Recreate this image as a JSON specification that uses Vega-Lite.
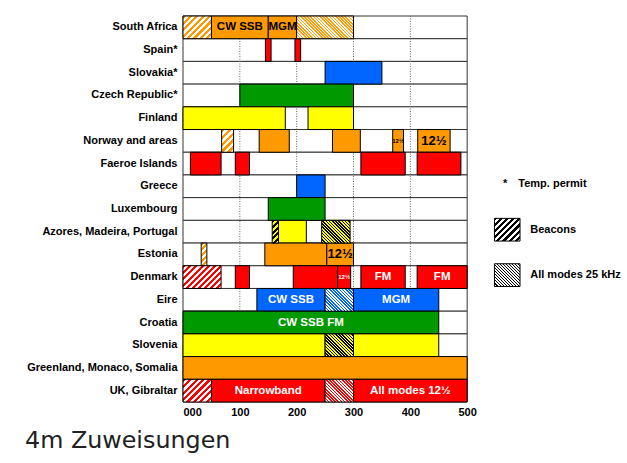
{
"$schema": "https://vega.github.io/schema/vega-lite/v6.json",
"width": 341, "height": 386,
"autosize": {"type": "none"},
"padding": {"left": 183, "top": 16, "right": 103, "bottom": 61},
"background": "white",
"title": {"text": "4m Zuweisungen", "orient": "bottom", "anchor": "start", "frame": "group", "dx": -158, "offset": 12, "font": "DejaVu Sans", "fontSize": 23.8, "fontWeight": "normal", "color": "#202122"},
"config": {"view": {"stroke": null}, "axis": {"labelFont": "Liberation Sans", "labelFontWeight": "bold", "labelFontSize": 11, "labelColor": "#000", "domain": false, "ticks": false, "grid": false}},
"datasets": {
"rows": [{"country":"South Africa"},{"country":"Spain*"},{"country":"Slovakia*"},{"country":"Czech Republic*"},{"country":"Finland"},{"country":"Norway and areas"},{"country":"Faeroe Islands"},{"country":"Greece"},{"country":"Luxembourg"},{"country":"Azores, Madeira, Portugal"},{"country":"Estonia"},{"country":"Denmark"},{"country":"Eire"},{"country":"Croatia"},{"country":"Slovenia"},{"country":"Greenland, Monaco, Somalia"},{"country":"UK, Gibraltar"}],
"solid": [
{"country":"South Africa","start":50,"end":150,"hue":"orange"},
{"country":"South Africa","start":150,"end":200,"hue":"orange"},
{"country":"Spain*","start":145,"end":155,"hue":"red"},
{"country":"Spain*","start":197,"end":207,"hue":"red"},
{"country":"Slovakia*","start":250,"end":350,"hue":"blue"},
{"country":"Czech Republic*","start":100,"end":300,"hue":"green"},
{"country":"Finland","start":0,"end":180,"hue":"yellow"},
{"country":"Finland","start":220,"end":300,"hue":"yellow"},
{"country":"Norway and areas","start":134,"end":187,"hue":"orange"},
{"country":"Norway and areas","start":263,"end":312,"hue":"orange"},
{"country":"Norway and areas","start":369,"end":388,"hue":"orange"},
{"country":"Norway and areas","start":413,"end":470,"hue":"orange"},
{"country":"Faeroe Islands","start":13,"end":67,"hue":"red"},
{"country":"Faeroe Islands","start":92,"end":117,"hue":"red"},
{"country":"Faeroe Islands","start":313,"end":391,"hue":"red"},
{"country":"Faeroe Islands","start":412,"end":489,"hue":"red"},
{"country":"Greece","start":200,"end":250,"hue":"blue"},
{"country":"Luxembourg","start":150,"end":250,"hue":"green"},
{"country":"Azores, Madeira, Portugal","start":168,"end":217,"hue":"yellow"},
{"country":"Estonia","start":144,"end":253,"hue":"orange"},
{"country":"Estonia","start":253,"end":300,"hue":"orange"},
{"country":"Denmark","start":92,"end":117,"hue":"red"},
{"country":"Denmark","start":194,"end":272,"hue":"red"},
{"country":"Denmark","start":272,"end":295,"hue":"red"},
{"country":"Denmark","start":313,"end":391,"hue":"red"},
{"country":"Denmark","start":412,"end":500,"hue":"red"},
{"country":"Eire","start":130,"end":250,"hue":"blue"},
{"country":"Eire","start":300,"end":450,"hue":"blue"},
{"country":"Croatia","start":0,"end":450,"hue":"green"},
{"country":"Slovenia","start":0,"end":250,"hue":"yellow"},
{"country":"Slovenia","start":300,"end":450,"hue":"yellow"},
{"country":"Greenland, Monaco, Somalia","start":0,"end":500,"hue":"orange"},
{"country":"UK, Gibraltar","start":50,"end":250,"hue":"red"},
{"country":"UK, Gibraltar","start":300,"end":500,"hue":"red"}
],
"labelsDark": [
{"country":"South Africa","start":50,"end":150,"label":"CW SSB"},
{"country":"South Africa","start":150,"end":200,"label":"MGM"}
],
"labelsDarkBig": [
{"country":"Norway and areas","start":413,"end":470,"label":"12½"},
{"country":"Estonia","start":253,"end":300,"label":"12½"}
],
"labelsDarkTiny": [
{"country":"Norway and areas","start":369,"end":388,"label":"12½"}
],
"labelsLight": [
{"country":"Denmark","start":313,"end":391,"label":"FM"},
{"country":"Denmark","start":412,"end":500,"label":"FM"},
{"country":"Eire","start":130,"end":250,"label":"CW SSB"},
{"country":"Eire","start":300,"end":450,"label":"MGM"},
{"country":"Croatia","start":0,"end":450,"label":"CW SSB FM"},
{"country":"UK, Gibraltar","start":50,"end":250,"label":"Narrowband"},
{"country":"UK, Gibraltar","start":300,"end":500,"label":"All modes 12½"}
],
"labelsLightTiny": [
{"country":"Denmark","start":272,"end":295,"label":"12½"}
],
"legendText": [
{"country":"Greece","pos":590,"label":"Temp. permit"},
{"country":"Azores, Madeira, Portugal","pos":611,"label":"Beacons"},
{"country":"Denmark","pos":611,"label":"All modes 25 kHz"}
]
},
"layer": [
{"data": {"name": "rows"},
 "mark": {"type": "rect", "fill": "white", "stroke": "#333", "strokeWidth": 1},
 "encoding": {
  "y": {"field": "country", "type": "nominal", "title": null, "scale": {"domain": ["South Africa","Spain*","Slovakia*","Czech Republic*","Finland","Norway and areas","Faeroe Islands","Greece","Luxembourg","Azores, Madeira, Portugal","Estonia","Denmark","Eire","Croatia","Slovenia","Greenland, Monaco, Somalia","UK, Gibraltar"], "paddingInner": 0, "paddingOuter": 0}, "axis": {"labelPadding": 6}},
  "x": {"datum": 0, "type": "quantitative", "title": null, "scale": {"domain": [0, 600], "nice": false, "zero": false}, "axis": {"values": [0,100,200,300,400,500], "labelExpr": "datum.value === 0 ? '000' : datum.label", "labelPadding": 4}},
  "x2": {"datum": 500}
 }},
{"data": {"values": [{"v":100},{"v":200},{"v":300},{"v":400}]},
 "mark": {"type": "rule", "color": "#666", "strokeDash": [1, 1.5], "strokeWidth": 1},
 "encoding": {"x": {"field": "v", "type": "quantitative", "title": null}}},
{"data": {"name": "solid"},
 "mark": {"type": "rect", "stroke": "#000", "strokeWidth": 1},
 "encoding": {
  "y": {"field": "country", "type": "nominal", "title": null},
  "x": {"field": "start", "type": "quantitative", "title": null},
  "x2": {"field": "end"},
  "fill": {"field": "hue", "type": "nominal", "legend": null, "scale": {"domain": ["orange","red","blue","green","yellow"], "range": ["#FF9900","#FF0000","#0066FF","#009900","#FFFF00"]}}
 }},
{"data": {"values": [{"country":"South Africa","start":0,"end":50}]},
 "mark": {"type": "rect", "stroke": "#000", "strokeWidth": 1, "fill": {"gradient": "linear", "x1": 0, "y1": 0, "x2": 1.098, "y2": 0.878, "stops": [{"offset":0,"color":"#f90"},{"offset":0.0625,"color":"#f90"},{"offset":0.0625,"color":"#fff"},{"offset":0.125,"color":"#fff"},{"offset":0.125,"color":"#f90"},{"offset":0.1875,"color":"#f90"},{"offset":0.1875,"color":"#fff"},{"offset":0.25,"color":"#fff"},{"offset":0.25,"color":"#f90"},{"offset":0.3125,"color":"#f90"},{"offset":0.3125,"color":"#fff"},{"offset":0.375,"color":"#fff"},{"offset":0.375,"color":"#f90"},{"offset":0.4375,"color":"#f90"},{"offset":0.4375,"color":"#fff"},{"offset":0.5,"color":"#fff"},{"offset":0.5,"color":"#f90"},{"offset":0.5625,"color":"#f90"},{"offset":0.5625,"color":"#fff"},{"offset":0.625,"color":"#fff"},{"offset":0.625,"color":"#f90"},{"offset":0.6875,"color":"#f90"},{"offset":0.6875,"color":"#fff"},{"offset":0.75,"color":"#fff"},{"offset":0.75,"color":"#f90"},{"offset":0.8125,"color":"#f90"},{"offset":0.8125,"color":"#fff"},{"offset":0.875,"color":"#fff"},{"offset":0.875,"color":"#f90"},{"offset":0.9375,"color":"#f90"},{"offset":0.9375,"color":"#fff"},{"offset":1,"color":"#fff"}]}},
 "encoding": {"y": {"field": "country", "type": "nominal", "title": null}, "x": {"field": "start", "type": "quantitative", "title": null}, "x2": {"field": "end"}}},
{"data": {"values": [{"country":"Norway and areas","start":68,"end":89}]},
 "mark": {"type": "rect", "stroke": "#000", "strokeWidth": 1, "fill": {"gradient": "linear", "x1": 0, "y1": 0, "x2": 0.627, "y2": 1.196, "stops": [{"offset":0,"color":"#f90"},{"offset":0.1,"color":"#f90"},{"offset":0.1,"color":"#fff"},{"offset":0.2,"color":"#fff"},{"offset":0.2,"color":"#f90"},{"offset":0.3,"color":"#f90"},{"offset":0.3,"color":"#fff"},{"offset":0.4,"color":"#fff"},{"offset":0.4,"color":"#f90"},{"offset":0.5,"color":"#f90"},{"offset":0.5,"color":"#fff"},{"offset":0.6,"color":"#fff"},{"offset":0.6,"color":"#f90"},{"offset":0.7,"color":"#f90"},{"offset":0.7,"color":"#fff"},{"offset":0.8,"color":"#fff"},{"offset":0.8,"color":"#f90"},{"offset":0.9,"color":"#f90"},{"offset":0.9,"color":"#fff"},{"offset":1,"color":"#fff"}]}},
 "encoding": {"y": {"field": "country", "type": "nominal", "title": null}, "x": {"field": "start", "type": "quantitative", "title": null}, "x2": {"field": "end"}}},
{"data": {"values": [{"country":"Estonia","start":32,"end":42}]},
 "mark": {"type": "rect", "stroke": "#000", "strokeWidth": 1, "fill": {"gradient": "linear", "x1": 0, "y1": 0, "x2": 0.294, "y2": 1.177, "stops": [{"offset":0,"color":"#f90"},{"offset":0.1,"color":"#f90"},{"offset":0.1,"color":"#fff"},{"offset":0.2,"color":"#fff"},{"offset":0.2,"color":"#f90"},{"offset":0.3,"color":"#f90"},{"offset":0.3,"color":"#fff"},{"offset":0.4,"color":"#fff"},{"offset":0.4,"color":"#f90"},{"offset":0.5,"color":"#f90"},{"offset":0.5,"color":"#fff"},{"offset":0.6,"color":"#fff"},{"offset":0.6,"color":"#f90"},{"offset":0.7,"color":"#f90"},{"offset":0.7,"color":"#fff"},{"offset":0.8,"color":"#fff"},{"offset":0.8,"color":"#f90"},{"offset":0.9,"color":"#f90"},{"offset":0.9,"color":"#fff"},{"offset":1,"color":"#fff"}]}},
 "encoding": {"y": {"field": "country", "type": "nominal", "title": null}, "x": {"field": "start", "type": "quantitative", "title": null}, "x2": {"field": "end"}}},
{"data": {"values": [{"country":"Denmark","start":0,"end":67}]},
 "mark": {"type": "rect", "stroke": "#000", "strokeWidth": 1, "fill": {"gradient": "linear", "x1": 0, "y1": 0, "x2": 1.178, "y2": 0.702, "stops": [{"offset":0,"color":"#f00"},{"offset":0.05,"color":"#f00"},{"offset":0.05,"color":"#fff"},{"offset":0.1,"color":"#fff"},{"offset":0.1,"color":"#f00"},{"offset":0.15,"color":"#f00"},{"offset":0.15,"color":"#fff"},{"offset":0.2,"color":"#fff"},{"offset":0.2,"color":"#f00"},{"offset":0.25,"color":"#f00"},{"offset":0.25,"color":"#fff"},{"offset":0.3,"color":"#fff"},{"offset":0.3,"color":"#f00"},{"offset":0.35,"color":"#f00"},{"offset":0.35,"color":"#fff"},{"offset":0.4,"color":"#fff"},{"offset":0.4,"color":"#f00"},{"offset":0.45,"color":"#f00"},{"offset":0.45,"color":"#fff"},{"offset":0.5,"color":"#fff"},{"offset":0.5,"color":"#f00"},{"offset":0.55,"color":"#f00"},{"offset":0.55,"color":"#fff"},{"offset":0.6,"color":"#fff"},{"offset":0.6,"color":"#f00"},{"offset":0.65,"color":"#f00"},{"offset":0.65,"color":"#fff"},{"offset":0.7,"color":"#fff"},{"offset":0.7,"color":"#f00"},{"offset":0.75,"color":"#f00"},{"offset":0.75,"color":"#fff"},{"offset":0.8,"color":"#fff"},{"offset":0.8,"color":"#f00"},{"offset":0.85,"color":"#f00"},{"offset":0.85,"color":"#fff"},{"offset":0.9,"color":"#fff"},{"offset":0.9,"color":"#f00"},{"offset":0.95,"color":"#f00"},{"offset":0.95,"color":"#fff"},{"offset":1,"color":"#fff"}]}},
 "encoding": {"y": {"field": "country", "type": "nominal", "title": null}, "x": {"field": "start", "type": "quantitative", "title": null}, "x2": {"field": "end"}}},
{"data": {"values": [{"country":"UK, Gibraltar","start":0,"end":50}]},
 "mark": {"type": "rect", "stroke": "#000", "strokeWidth": 1, "fill": {"gradient": "linear", "x1": 0, "y1": 0, "x2": 1.098, "y2": 0.878, "stops": [{"offset":0,"color":"#f00"},{"offset":0.0625,"color":"#f00"},{"offset":0.0625,"color":"#fff"},{"offset":0.125,"color":"#fff"},{"offset":0.125,"color":"#f00"},{"offset":0.1875,"color":"#f00"},{"offset":0.1875,"color":"#fff"},{"offset":0.25,"color":"#fff"},{"offset":0.25,"color":"#f00"},{"offset":0.3125,"color":"#f00"},{"offset":0.3125,"color":"#fff"},{"offset":0.375,"color":"#fff"},{"offset":0.375,"color":"#f00"},{"offset":0.4375,"color":"#f00"},{"offset":0.4375,"color":"#fff"},{"offset":0.5,"color":"#fff"},{"offset":0.5,"color":"#f00"},{"offset":0.5625,"color":"#f00"},{"offset":0.5625,"color":"#fff"},{"offset":0.625,"color":"#fff"},{"offset":0.625,"color":"#f00"},{"offset":0.6875,"color":"#f00"},{"offset":0.6875,"color":"#fff"},{"offset":0.75,"color":"#fff"},{"offset":0.75,"color":"#f00"},{"offset":0.8125,"color":"#f00"},{"offset":0.8125,"color":"#fff"},{"offset":0.875,"color":"#fff"},{"offset":0.875,"color":"#f00"},{"offset":0.9375,"color":"#f00"},{"offset":0.9375,"color":"#fff"},{"offset":1,"color":"#fff"}]}},
 "encoding": {"y": {"field": "country", "type": "nominal", "title": null}, "x": {"field": "start", "type": "quantitative", "title": null}, "x2": {"field": "end"}}},
{"data": {"values": [{"country":"Azores, Madeira, Portugal","start":157,"end":168}]},
 "mark": {"type": "rect", "stroke": "#000", "strokeWidth": 1, "fill": {"gradient": "linear", "x1": 0, "y1": 0, "x2": 0.326, "y2": 1.186, "stops": [{"offset":0,"color":"#000"},{"offset":0.1,"color":"#000"},{"offset":0.1,"color":"#ff0"},{"offset":0.2,"color":"#ff0"},{"offset":0.2,"color":"#000"},{"offset":0.3,"color":"#000"},{"offset":0.3,"color":"#ff0"},{"offset":0.4,"color":"#ff0"},{"offset":0.4,"color":"#000"},{"offset":0.5,"color":"#000"},{"offset":0.5,"color":"#ff0"},{"offset":0.6,"color":"#ff0"},{"offset":0.6,"color":"#000"},{"offset":0.7,"color":"#000"},{"offset":0.7,"color":"#ff0"},{"offset":0.8,"color":"#ff0"},{"offset":0.8,"color":"#000"},{"offset":0.9,"color":"#000"},{"offset":0.9,"color":"#ff0"},{"offset":1,"color":"#ff0"}]}},
 "encoding": {"y": {"field": "country", "type": "nominal", "title": null}, "x": {"field": "start", "type": "quantitative", "title": null}, "x2": {"field": "end"}}},
{"data": {"values": [{"country":"South Africa","start":200,"end":300}]},
 "mark": {"type": "rect", "stroke": "#000", "strokeWidth": 1, "fill": {"gradient": "linear", "x1": 0, "y1": 1, "x2": 1.207, "y2": 0.518, "stops": [{"offset":0,"color":"#f90"},{"offset":0.02,"color":"#f90"},{"offset":0.02,"color":"#fff"},{"offset":0.04,"color":"#fff"},{"offset":0.04,"color":"#f90"},{"offset":0.06,"color":"#f90"},{"offset":0.06,"color":"#fff"},{"offset":0.08,"color":"#fff"},{"offset":0.08,"color":"#f90"},{"offset":0.1,"color":"#f90"},{"offset":0.1,"color":"#fff"},{"offset":0.12,"color":"#fff"},{"offset":0.12,"color":"#f90"},{"offset":0.14,"color":"#f90"},{"offset":0.14,"color":"#fff"},{"offset":0.16,"color":"#fff"},{"offset":0.16,"color":"#f90"},{"offset":0.18,"color":"#f90"},{"offset":0.18,"color":"#fff"},{"offset":0.2,"color":"#fff"},{"offset":0.2,"color":"#f90"},{"offset":0.22,"color":"#f90"},{"offset":0.22,"color":"#fff"},{"offset":0.24,"color":"#fff"},{"offset":0.24,"color":"#f90"},{"offset":0.26,"color":"#f90"},{"offset":0.26,"color":"#fff"},{"offset":0.28,"color":"#fff"},{"offset":0.28,"color":"#f90"},{"offset":0.3,"color":"#f90"},{"offset":0.3,"color":"#fff"},{"offset":0.32,"color":"#fff"},{"offset":0.32,"color":"#f90"},{"offset":0.34,"color":"#f90"},{"offset":0.34,"color":"#fff"},{"offset":0.36,"color":"#fff"},{"offset":0.36,"color":"#f90"},{"offset":0.38,"color":"#f90"},{"offset":0.38,"color":"#fff"},{"offset":0.4,"color":"#fff"},{"offset":0.4,"color":"#f90"},{"offset":0.42,"color":"#f90"},{"offset":0.42,"color":"#fff"},{"offset":0.44,"color":"#fff"},{"offset":0.44,"color":"#f90"},{"offset":0.46,"color":"#f90"},{"offset":0.46,"color":"#fff"},{"offset":0.48,"color":"#fff"},{"offset":0.48,"color":"#f90"},{"offset":0.5,"color":"#f90"},{"offset":0.5,"color":"#fff"},{"offset":0.52,"color":"#fff"},{"offset":0.52,"color":"#f90"},{"offset":0.54,"color":"#f90"},{"offset":0.54,"color":"#fff"},{"offset":0.56,"color":"#fff"},{"offset":0.56,"color":"#f90"},{"offset":0.58,"color":"#f90"},{"offset":0.58,"color":"#fff"},{"offset":0.6,"color":"#fff"},{"offset":0.6,"color":"#f90"},{"offset":0.62,"color":"#f90"},{"offset":0.62,"color":"#fff"},{"offset":0.64,"color":"#fff"},{"offset":0.64,"color":"#f90"},{"offset":0.66,"color":"#f90"},{"offset":0.66,"color":"#fff"},{"offset":0.68,"color":"#fff"},{"offset":0.68,"color":"#f90"},{"offset":0.7,"color":"#f90"},{"offset":0.7,"color":"#fff"},{"offset":0.72,"color":"#fff"},{"offset":0.72,"color":"#f90"},{"offset":0.74,"color":"#f90"},{"offset":0.74,"color":"#fff"},{"offset":0.76,"color":"#fff"},{"offset":0.76,"color":"#f90"},{"offset":0.78,"color":"#f90"},{"offset":0.78,"color":"#fff"},{"offset":0.8,"color":"#fff"},{"offset":0.8,"color":"#f90"},{"offset":0.82,"color":"#f90"},{"offset":0.82,"color":"#fff"},{"offset":0.84,"color":"#fff"},{"offset":0.84,"color":"#f90"},{"offset":0.86,"color":"#f90"},{"offset":0.86,"color":"#fff"},{"offset":0.88,"color":"#fff"},{"offset":0.88,"color":"#f90"},{"offset":0.9,"color":"#f90"},{"offset":0.9,"color":"#fff"},{"offset":0.92,"color":"#fff"},{"offset":0.92,"color":"#f90"},{"offset":0.94,"color":"#f90"},{"offset":0.94,"color":"#fff"},{"offset":0.96,"color":"#fff"},{"offset":0.96,"color":"#f90"},{"offset":0.98,"color":"#f90"},{"offset":0.98,"color":"#fff"},{"offset":1,"color":"#fff"}]}},
 "encoding": {"y": {"field": "country", "type": "nominal", "title": null}, "x": {"field": "start", "type": "quantitative", "title": null}, "x2": {"field": "end"}}},
{"data": {"values": [{"country":"Eire","start":250,"end":300}]},
 "mark": {"type": "rect", "stroke": "#000", "strokeWidth": 1, "fill": {"gradient": "linear", "x1": 0, "y1": 1, "x2": 1.098, "y2": 0.122, "stops": [{"offset":0,"color":"#06f"},{"offset":0.03125,"color":"#06f"},{"offset":0.03125,"color":"#fff"},{"offset":0.0625,"color":"#fff"},{"offset":0.0625,"color":"#06f"},{"offset":0.09375,"color":"#06f"},{"offset":0.09375,"color":"#fff"},{"offset":0.125,"color":"#fff"},{"offset":0.125,"color":"#06f"},{"offset":0.15625,"color":"#06f"},{"offset":0.15625,"color":"#fff"},{"offset":0.1875,"color":"#fff"},{"offset":0.1875,"color":"#06f"},{"offset":0.21875,"color":"#06f"},{"offset":0.21875,"color":"#fff"},{"offset":0.25,"color":"#fff"},{"offset":0.25,"color":"#06f"},{"offset":0.28125,"color":"#06f"},{"offset":0.28125,"color":"#fff"},{"offset":0.3125,"color":"#fff"},{"offset":0.3125,"color":"#06f"},{"offset":0.34375,"color":"#06f"},{"offset":0.34375,"color":"#fff"},{"offset":0.375,"color":"#fff"},{"offset":0.375,"color":"#06f"},{"offset":0.40625,"color":"#06f"},{"offset":0.40625,"color":"#fff"},{"offset":0.4375,"color":"#fff"},{"offset":0.4375,"color":"#06f"},{"offset":0.46875,"color":"#06f"},{"offset":0.46875,"color":"#fff"},{"offset":0.5,"color":"#fff"},{"offset":0.5,"color":"#06f"},{"offset":0.53125,"color":"#06f"},{"offset":0.53125,"color":"#fff"},{"offset":0.5625,"color":"#fff"},{"offset":0.5625,"color":"#06f"},{"offset":0.59375,"color":"#06f"},{"offset":0.59375,"color":"#fff"},{"offset":0.625,"color":"#fff"},{"offset":0.625,"color":"#06f"},{"offset":0.65625,"color":"#06f"},{"offset":0.65625,"color":"#fff"},{"offset":0.6875,"color":"#fff"},{"offset":0.6875,"color":"#06f"},{"offset":0.71875,"color":"#06f"},{"offset":0.71875,"color":"#fff"},{"offset":0.75,"color":"#fff"},{"offset":0.75,"color":"#06f"},{"offset":0.78125,"color":"#06f"},{"offset":0.78125,"color":"#fff"},{"offset":0.8125,"color":"#fff"},{"offset":0.8125,"color":"#06f"},{"offset":0.84375,"color":"#06f"},{"offset":0.84375,"color":"#fff"},{"offset":0.875,"color":"#fff"},{"offset":0.875,"color":"#06f"},{"offset":0.90625,"color":"#06f"},{"offset":0.90625,"color":"#fff"},{"offset":0.9375,"color":"#fff"},{"offset":0.9375,"color":"#06f"},{"offset":0.96875,"color":"#06f"},{"offset":0.96875,"color":"#fff"},{"offset":1,"color":"#fff"}]}},
 "encoding": {"y": {"field": "country", "type": "nominal", "title": null}, "x": {"field": "start", "type": "quantitative", "title": null}, "x2": {"field": "end"}}},
{"data": {"values": [{"country":"Slovenia","start":250,"end":300},{"country":"Azores, Madeira, Portugal","start":244,"end":294}]},
 "mark": {"type": "rect", "stroke": "#000", "strokeWidth": 1, "fill": {"gradient": "linear", "x1": 0, "y1": 1, "x2": 1.098, "y2": 0.122, "stops": [{"offset":0,"color":"#000"},{"offset":0.03125,"color":"#000"},{"offset":0.03125,"color":"#ff0"},{"offset":0.0625,"color":"#ff0"},{"offset":0.0625,"color":"#000"},{"offset":0.09375,"color":"#000"},{"offset":0.09375,"color":"#ff0"},{"offset":0.125,"color":"#ff0"},{"offset":0.125,"color":"#000"},{"offset":0.15625,"color":"#000"},{"offset":0.15625,"color":"#ff0"},{"offset":0.1875,"color":"#ff0"},{"offset":0.1875,"color":"#000"},{"offset":0.21875,"color":"#000"},{"offset":0.21875,"color":"#ff0"},{"offset":0.25,"color":"#ff0"},{"offset":0.25,"color":"#000"},{"offset":0.28125,"color":"#000"},{"offset":0.28125,"color":"#ff0"},{"offset":0.3125,"color":"#ff0"},{"offset":0.3125,"color":"#000"},{"offset":0.34375,"color":"#000"},{"offset":0.34375,"color":"#ff0"},{"offset":0.375,"color":"#ff0"},{"offset":0.375,"color":"#000"},{"offset":0.40625,"color":"#000"},{"offset":0.40625,"color":"#ff0"},{"offset":0.4375,"color":"#ff0"},{"offset":0.4375,"color":"#000"},{"offset":0.46875,"color":"#000"},{"offset":0.46875,"color":"#ff0"},{"offset":0.5,"color":"#ff0"},{"offset":0.5,"color":"#000"},{"offset":0.53125,"color":"#000"},{"offset":0.53125,"color":"#ff0"},{"offset":0.5625,"color":"#ff0"},{"offset":0.5625,"color":"#000"},{"offset":0.59375,"color":"#000"},{"offset":0.59375,"color":"#ff0"},{"offset":0.625,"color":"#ff0"},{"offset":0.625,"color":"#000"},{"offset":0.65625,"color":"#000"},{"offset":0.65625,"color":"#ff0"},{"offset":0.6875,"color":"#ff0"},{"offset":0.6875,"color":"#000"},{"offset":0.71875,"color":"#000"},{"offset":0.71875,"color":"#ff0"},{"offset":0.75,"color":"#ff0"},{"offset":0.75,"color":"#000"},{"offset":0.78125,"color":"#000"},{"offset":0.78125,"color":"#ff0"},{"offset":0.8125,"color":"#ff0"},{"offset":0.8125,"color":"#000"},{"offset":0.84375,"color":"#000"},{"offset":0.84375,"color":"#ff0"},{"offset":0.875,"color":"#ff0"},{"offset":0.875,"color":"#000"},{"offset":0.90625,"color":"#000"},{"offset":0.90625,"color":"#ff0"},{"offset":0.9375,"color":"#ff0"},{"offset":0.9375,"color":"#000"},{"offset":0.96875,"color":"#000"},{"offset":0.96875,"color":"#ff0"},{"offset":1,"color":"#ff0"}]}},
 "encoding": {"y": {"field": "country", "type": "nominal", "title": null}, "x": {"field": "start", "type": "quantitative", "title": null}, "x2": {"field": "end"}}},
{"data": {"values": [{"country":"UK, Gibraltar","start":250,"end":300}]},
 "mark": {"type": "rect", "stroke": "#000", "strokeWidth": 1, "fill": {"gradient": "linear", "x1": 0, "y1": 1, "x2": 1.098, "y2": 0.122, "stops": [{"offset":0,"color":"#f00"},{"offset":0.03125,"color":"#f00"},{"offset":0.03125,"color":"#fff"},{"offset":0.0625,"color":"#fff"},{"offset":0.0625,"color":"#f00"},{"offset":0.09375,"color":"#f00"},{"offset":0.09375,"color":"#fff"},{"offset":0.125,"color":"#fff"},{"offset":0.125,"color":"#f00"},{"offset":0.15625,"color":"#f00"},{"offset":0.15625,"color":"#fff"},{"offset":0.1875,"color":"#fff"},{"offset":0.1875,"color":"#f00"},{"offset":0.21875,"color":"#f00"},{"offset":0.21875,"color":"#fff"},{"offset":0.25,"color":"#fff"},{"offset":0.25,"color":"#f00"},{"offset":0.28125,"color":"#f00"},{"offset":0.28125,"color":"#fff"},{"offset":0.3125,"color":"#fff"},{"offset":0.3125,"color":"#f00"},{"offset":0.34375,"color":"#f00"},{"offset":0.34375,"color":"#fff"},{"offset":0.375,"color":"#fff"},{"offset":0.375,"color":"#f00"},{"offset":0.40625,"color":"#f00"},{"offset":0.40625,"color":"#fff"},{"offset":0.4375,"color":"#fff"},{"offset":0.4375,"color":"#f00"},{"offset":0.46875,"color":"#f00"},{"offset":0.46875,"color":"#fff"},{"offset":0.5,"color":"#fff"},{"offset":0.5,"color":"#f00"},{"offset":0.53125,"color":"#f00"},{"offset":0.53125,"color":"#fff"},{"offset":0.5625,"color":"#fff"},{"offset":0.5625,"color":"#f00"},{"offset":0.59375,"color":"#f00"},{"offset":0.59375,"color":"#fff"},{"offset":0.625,"color":"#fff"},{"offset":0.625,"color":"#f00"},{"offset":0.65625,"color":"#f00"},{"offset":0.65625,"color":"#fff"},{"offset":0.6875,"color":"#fff"},{"offset":0.6875,"color":"#f00"},{"offset":0.71875,"color":"#f00"},{"offset":0.71875,"color":"#fff"},{"offset":0.75,"color":"#fff"},{"offset":0.75,"color":"#f00"},{"offset":0.78125,"color":"#f00"},{"offset":0.78125,"color":"#fff"},{"offset":0.8125,"color":"#fff"},{"offset":0.8125,"color":"#f00"},{"offset":0.84375,"color":"#f00"},{"offset":0.84375,"color":"#fff"},{"offset":0.875,"color":"#fff"},{"offset":0.875,"color":"#f00"},{"offset":0.90625,"color":"#f00"},{"offset":0.90625,"color":"#fff"},{"offset":0.9375,"color":"#fff"},{"offset":0.9375,"color":"#f00"},{"offset":0.96875,"color":"#f00"},{"offset":0.96875,"color":"#fff"},{"offset":1,"color":"#fff"}]}},
 "encoding": {"y": {"field": "country", "type": "nominal", "title": null}, "x": {"field": "start", "type": "quantitative", "title": null}, "x2": {"field": "end"}}},
{"data": {"values": [{"country":"Azores, Madeira, Portugal","start":548,"end":593}]},
 "mark": {"type": "rect", "stroke": "#000", "strokeWidth": 1, "yOffset": -2, "fill": {"gradient": "linear", "x1": 0, "y1": 0, "x2": 1.056, "y2": 0.938, "stops": [{"offset":0,"color":"#000"},{"offset":0.0625,"color":"#000"},{"offset":0.0625,"color":"#fff"},{"offset":0.125,"color":"#fff"},{"offset":0.125,"color":"#000"},{"offset":0.1875,"color":"#000"},{"offset":0.1875,"color":"#fff"},{"offset":0.25,"color":"#fff"},{"offset":0.25,"color":"#000"},{"offset":0.3125,"color":"#000"},{"offset":0.3125,"color":"#fff"},{"offset":0.375,"color":"#fff"},{"offset":0.375,"color":"#000"},{"offset":0.4375,"color":"#000"},{"offset":0.4375,"color":"#fff"},{"offset":0.5,"color":"#fff"},{"offset":0.5,"color":"#000"},{"offset":0.5625,"color":"#000"},{"offset":0.5625,"color":"#fff"},{"offset":0.625,"color":"#fff"},{"offset":0.625,"color":"#000"},{"offset":0.6875,"color":"#000"},{"offset":0.6875,"color":"#fff"},{"offset":0.75,"color":"#fff"},{"offset":0.75,"color":"#000"},{"offset":0.8125,"color":"#000"},{"offset":0.8125,"color":"#fff"},{"offset":0.875,"color":"#fff"},{"offset":0.875,"color":"#000"},{"offset":0.9375,"color":"#000"},{"offset":0.9375,"color":"#fff"},{"offset":1,"color":"#fff"}]}},
 "encoding": {"y": {"field": "country", "type": "nominal", "title": null}, "x": {"field": "start", "type": "quantitative", "title": null}, "x2": {"field": "end"}}},
{"data": {"values": [{"country":"Denmark","start":548,"end":593}]},
 "mark": {"type": "rect", "stroke": "#000", "strokeWidth": 1, "yOffset": -2, "fill": {"gradient": "linear", "x1": 0, "y1": 1, "x2": 1.056, "y2": 0.062, "stops": [{"offset":0,"color":"#000"},{"offset":0.03125,"color":"#000"},{"offset":0.03125,"color":"#fff"},{"offset":0.0625,"color":"#fff"},{"offset":0.0625,"color":"#000"},{"offset":0.09375,"color":"#000"},{"offset":0.09375,"color":"#fff"},{"offset":0.125,"color":"#fff"},{"offset":0.125,"color":"#000"},{"offset":0.15625,"color":"#000"},{"offset":0.15625,"color":"#fff"},{"offset":0.1875,"color":"#fff"},{"offset":0.1875,"color":"#000"},{"offset":0.21875,"color":"#000"},{"offset":0.21875,"color":"#fff"},{"offset":0.25,"color":"#fff"},{"offset":0.25,"color":"#000"},{"offset":0.28125,"color":"#000"},{"offset":0.28125,"color":"#fff"},{"offset":0.3125,"color":"#fff"},{"offset":0.3125,"color":"#000"},{"offset":0.34375,"color":"#000"},{"offset":0.34375,"color":"#fff"},{"offset":0.375,"color":"#fff"},{"offset":0.375,"color":"#000"},{"offset":0.40625,"color":"#000"},{"offset":0.40625,"color":"#fff"},{"offset":0.4375,"color":"#fff"},{"offset":0.4375,"color":"#000"},{"offset":0.46875,"color":"#000"},{"offset":0.46875,"color":"#fff"},{"offset":0.5,"color":"#fff"},{"offset":0.5,"color":"#000"},{"offset":0.53125,"color":"#000"},{"offset":0.53125,"color":"#fff"},{"offset":0.5625,"color":"#fff"},{"offset":0.5625,"color":"#000"},{"offset":0.59375,"color":"#000"},{"offset":0.59375,"color":"#fff"},{"offset":0.625,"color":"#fff"},{"offset":0.625,"color":"#000"},{"offset":0.65625,"color":"#000"},{"offset":0.65625,"color":"#fff"},{"offset":0.6875,"color":"#fff"},{"offset":0.6875,"color":"#000"},{"offset":0.71875,"color":"#000"},{"offset":0.71875,"color":"#fff"},{"offset":0.75,"color":"#fff"},{"offset":0.75,"color":"#000"},{"offset":0.78125,"color":"#000"},{"offset":0.78125,"color":"#fff"},{"offset":0.8125,"color":"#fff"},{"offset":0.8125,"color":"#000"},{"offset":0.84375,"color":"#000"},{"offset":0.84375,"color":"#fff"},{"offset":0.875,"color":"#fff"},{"offset":0.875,"color":"#000"},{"offset":0.90625,"color":"#000"},{"offset":0.90625,"color":"#fff"},{"offset":0.9375,"color":"#fff"},{"offset":0.9375,"color":"#000"},{"offset":0.96875,"color":"#000"},{"offset":0.96875,"color":"#fff"},{"offset":1,"color":"#fff"}]}},
 "encoding": {"y": {"field": "country", "type": "nominal", "title": null}, "x": {"field": "start", "type": "quantitative", "title": null}, "x2": {"field": "end"}}},
{"data": {"name": "labelsDark"},
 "transform": [{"calculate": "(datum.start + datum.end) / 2", "as": "mid"}],
 "mark": {"type": "text", "font": "Liberation Sans", "fontWeight": "bold", "fontSize": 11.5, "color": "#000"},
 "encoding": {"y": {"field": "country", "type": "nominal", "title": null}, "x": {"field": "mid", "type": "quantitative", "title": null}, "text": {"field": "label"}}},
{"data": {"name": "labelsDarkBig"},
 "transform": [{"calculate": "(datum.start + datum.end) / 2", "as": "mid"}],
 "mark": {"type": "text", "font": "Liberation Sans", "fontWeight": "bold", "fontSize": 13, "color": "#000"},
 "encoding": {"y": {"field": "country", "type": "nominal", "title": null}, "x": {"field": "mid", "type": "quantitative", "title": null}, "text": {"field": "label"}}},
{"data": {"name": "labelsDarkTiny"},
 "transform": [{"calculate": "(datum.start + datum.end) / 2", "as": "mid"}],
 "mark": {"type": "text", "font": "Liberation Sans", "fontWeight": "bold", "fontSize": 6, "color": "#000"},
 "encoding": {"y": {"field": "country", "type": "nominal", "title": null}, "x": {"field": "mid", "type": "quantitative", "title": null}, "text": {"field": "label"}}},
{"data": {"name": "labelsLight"},
 "transform": [{"calculate": "(datum.start + datum.end) / 2", "as": "mid"}],
 "mark": {"type": "text", "font": "Liberation Sans", "fontWeight": "bold", "fontSize": 11.5, "color": "#fff"},
 "encoding": {"y": {"field": "country", "type": "nominal", "title": null}, "x": {"field": "mid", "type": "quantitative", "title": null}, "text": {"field": "label"}}},
{"data": {"name": "labelsLightTiny"},
 "transform": [{"calculate": "(datum.start + datum.end) / 2", "as": "mid"}],
 "mark": {"type": "text", "font": "Liberation Sans", "fontWeight": "bold", "fontSize": 6, "color": "#fff"},
 "encoding": {"y": {"field": "country", "type": "nominal", "title": null}, "x": {"field": "mid", "type": "quantitative", "title": null}, "text": {"field": "label"}}},
{"data": {"values": [{"country":"Greece","pos":567,"label":"*"}]},
 "mark": {"type": "text", "font": "Liberation Sans", "fontWeight": "bold", "fontSize": 11, "color": "#000", "dy": -2},
 "encoding": {"y": {"field": "country", "type": "nominal", "title": null}, "x": {"field": "pos", "type": "quantitative", "title": null}, "text": {"field": "label"}}},
{"data": {"name": "legendText"},
 "mark": {"type": "text", "font": "Liberation Sans", "fontWeight": "bold", "fontSize": 11, "color": "#000", "align": "left", "yOffset": -2},
 "encoding": {"y": {"field": "country", "type": "nominal", "title": null}, "x": {"field": "pos", "type": "quantitative", "title": null}, "text": {"field": "label"}}}
]
}
